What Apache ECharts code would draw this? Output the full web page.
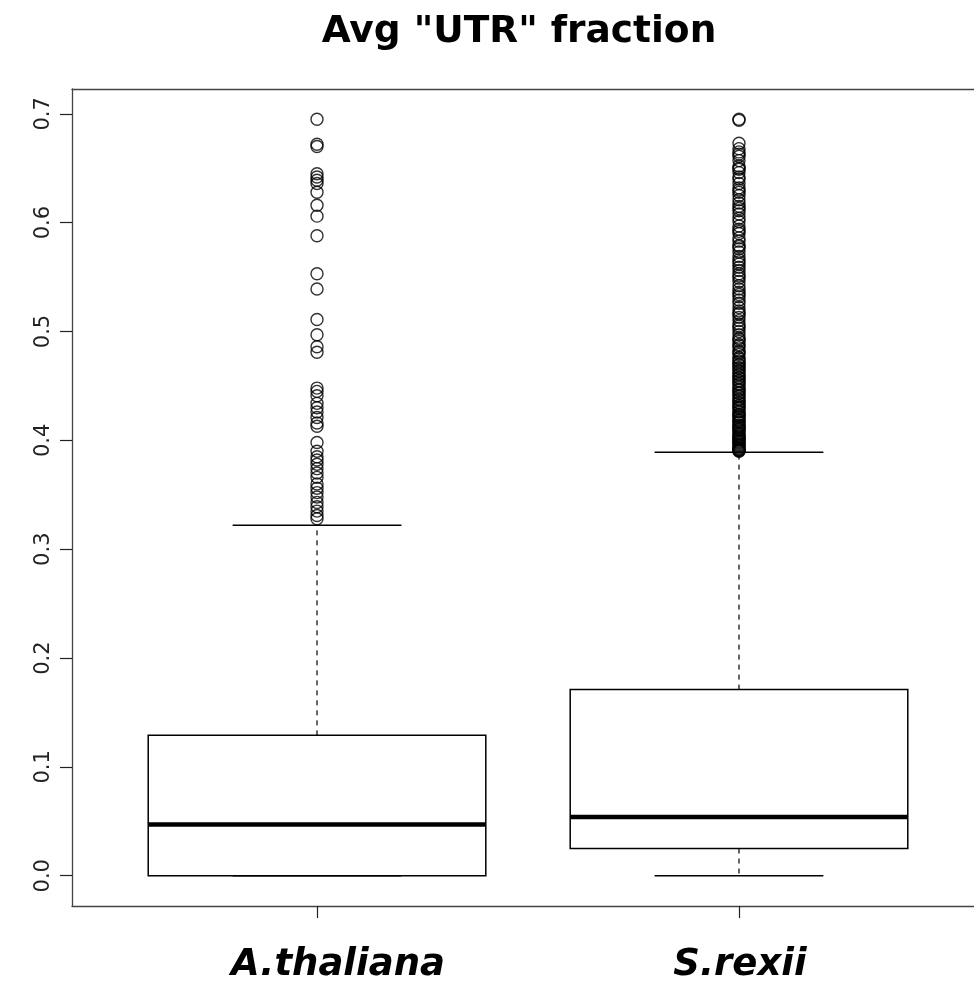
<!DOCTYPE html>
<html>
<head>
<meta charset="utf-8">
<script src="https://cdn.jsdelivr.net/npm/echarts@6/dist/echarts.min.js"></script>
<style>html,body{margin:0;padding:0;background:#fff;}#c{width:974px;height:989px;}</style>
</head>
<body>
<div id="c"></div>
<script>
// Data
const categories = ['A.thaliana', 'S.rexii'];
// [lowerWhisker, Q1, median, Q3, upperWhisker]
const boxStats = [
  [0.000, 0.000, 0.047, 0.129, 0.322],
  [0.000, 0.025, 0.054, 0.171, 0.389]
];
const outliersThaliana = [0.695, 0.672, 0.670, 0.645, 0.642, 0.639, 0.636, 0.628, 0.616, 0.606, 0.588, 0.553, 0.539, 0.511, 0.497, 0.486, 0.481, 0.448, 0.445, 0.441, 0.434, 0.430, 0.426, 0.421, 0.416, 0.413, 0.398, 0.390, 0.385, 0.382, 0.378, 0.374, 0.370, 0.366, 0.360, 0.356, 0.352, 0.348, 0.343, 0.339, 0.335, 0.331, 0.328];
const outliersRexii = [0.695, 0.694, 0.673, 0.668, 0.665, 0.661, 0.657, 0.652, 0.649, 0.646, 0.642, 0.640, 0.636, 0.632, 0.628, 0.625, 0.621, 0.618, 0.615, 0.611, 0.608, 0.604, 0.601, 0.597, 0.594, 0.590, 0.586, 0.583, 0.579, 0.576, 0.573, 0.569, 0.566, 0.562, 0.559, 0.556, 0.553, 0.549, 0.546, 0.542, 0.539, 0.536, 0.532, 0.529, 0.526, 0.522, 0.519, 0.516, 0.513, 0.510, 0.507, 0.503, 0.500, 0.497, 0.494, 0.491, 0.488, 0.485, 0.482, 0.479, 0.476, 0.473, 0.470, 0.467, 0.464, 0.461, 0.458, 0.455, 0.452, 0.449, 0.446, 0.443, 0.441, 0.438, 0.435, 0.432, 0.430, 0.427, 0.424, 0.422, 0.419, 0.417, 0.414, 0.412, 0.410, 0.407, 0.405, 0.403, 0.401, 0.399, 0.397, 0.395, 0.393, 0.392, 0.391, 0.390,
  0.3905, 0.3915, 0.394, 0.396, 0.398, 0.400, 0.402, 0.404, 0.406, 0.409, 0.411, 0.413, 0.416, 0.418, 0.421, 0.423, 0.426, 0.429, 0.431, 0.434, 0.437, 0.440, 0.444, 0.447, 0.451, 0.454, 0.457, 0.460, 0.463, 0.466, 0.469, 0.472, 0.475, 0.481, 0.487, 0.493, 0.505, 0.517, 0.534, 0.551, 0.564, 0.578, 0.592, 0.613, 0.630, 0.650, 0.663];
const yTicks = [0.0, 0.1, 0.2, 0.3, 0.4, 0.5, 0.6, 0.7];
const xTicks = [1, 2];

const boxData = boxStats.map((s, i) => [i + 1].concat(s));
const outlierData = [];
outliersThaliana.forEach(v => outlierData.push([1, v]));
outliersRexii.forEach(v => outlierData.push([2, v]));

const HALF = 0.4, CAP = 0.2;
const X_MIN = 0.4194, X_MAX = 2.5569;
function renderBox(params, api) {
  const x = api.value(0);
  const lo = api.value(1), q1 = api.value(2), med = api.value(3), q3 = api.value(4), hi = api.value(5);
  const pL = api.coord([x - HALF, q3]);
  const pR = api.coord([x + HALF, q1]);
  const c = api.coord([x, med]);
  const cl = api.coord([x - CAP, 0]);
  const cr = api.coord([x + CAP, 0]);
  const yHi = api.coord([x, hi])[1], yLo = api.coord([x, lo])[1];
  const yQ1 = api.coord([x, q1])[1], yQ3 = api.coord([x, q3])[1];
  const medL = api.coord([x - HALF, med]), medR = api.coord([x + HALF, med]);
  const dash = {stroke: '#000', lineWidth: 1.2, lineDash: [5, 5]};
  return {
    type: 'group',
    children: [
      {type: 'line', shape: {x1: c[0], y1: yQ3, x2: c[0], y2: yHi}, style: dash},
      {type: 'line', shape: {x1: c[0], y1: yQ1, x2: c[0], y2: yLo}, style: dash},
      {type: 'line', shape: {x1: cl[0], y1: yHi, x2: cr[0], y2: yHi}, style: {stroke: '#000', lineWidth: 1.5}},
      {type: 'line', shape: {x1: cl[0], y1: yLo, x2: cr[0], y2: yLo}, style: {stroke: '#000', lineWidth: 1.5}},
      {type: 'rect', shape: {x: pL[0], y: pL[1], width: pR[0] - pL[0], height: pR[1] - pL[1]}, style: {fill: '#fff', stroke: '#000', lineWidth: 1.5}},
      {type: 'line', shape: {x1: medL[0], y1: medL[1], x2: medR[0], y2: medR[1]}, style: {stroke: '#000', lineWidth: 4.5}}
    ]
  };
}

const catFont = {fontFamily: 'DejaVu Sans', fontWeight: 'bold', fontStyle: 'italic', fontSize: 37, color: '#000'};
const frameLine = {show: true, onZero: false, lineStyle: {color: '#444', width: 1.3}};
const chart = echarts.init(document.getElementById('c'));
chart.setOption({
  animation: false,
  backgroundColor: '#fff',
  title: {
    text: 'Avg "UTR" fraction',
    left: 514, top: 8, textAlign: 'center',
    textStyle: {fontFamily: 'DejaVu Sans', fontWeight: 'bold', fontSize: 37.5, color: '#000'}
  },
  grid: {left: 72, top: 89, right: 0, bottom: 83, show: false},
  xAxis: [{
    type: 'value', min: X_MIN, max: X_MAX, position: 'bottom',
    splitLine: {show: false},
    axisLine: frameLine,
    axisTick: {show: true, length: 12, customValues: xTicks, lineStyle: {color: '#222', width: 1.2}},
    axisLabel: Object.assign({
      customValues: xTicks, margin: 41,
      formatter: v => {
        const i = Math.round(v) - 1;
        return i === 0 ? '{a|' + categories[0] + '}' : (i === 1 ? '{b|' + categories[1] + '}' : '');
      },
      rich: {
        a: Object.assign({padding: [0, 0, 0, 42]}, catFont),
        b: Object.assign({padding: [0, 0, 0, 2]}, catFont)
      }
    }, catFont)
  }, {
    type: 'value', min: X_MIN, max: X_MAX, position: 'top',
    splitLine: {show: false}, axisLine: frameLine,
    axisTick: {show: false}, axisLabel: {show: false}
  }],
  yAxis: {
    type: 'value', min: -0.0278, max: 0.7228, position: 'left',
    splitLine: {show: false},
    axisLine: frameLine,
    axisTick: {show: true, length: 12, customValues: yTicks, lineStyle: {color: '#222', width: 1.2}},
    axisLabel: {
      customValues: yTicks, rotate: 90, margin: 18,
      formatter: v => v.toFixed(1),
      fontFamily: 'DejaVu Sans', fontSize: 21, color: '#222'
    }
  },
  series: [
    {
      type: 'custom', renderItem: renderBox, data: boxData, xAxisIndex: 0,
      encode: {x: 0, y: [1, 2, 3, 4, 5]}, z: 2
    },
    {
      type: 'scatter', data: outlierData, xAxisIndex: 0, symbol: 'circle', symbolSize: 12,
      itemStyle: {color: 'rgba(0,0,0,0)', borderColor: '#000', borderWidth: 1.4}, z: 3
    }
  ]
});
</script>
</body>
</html>
